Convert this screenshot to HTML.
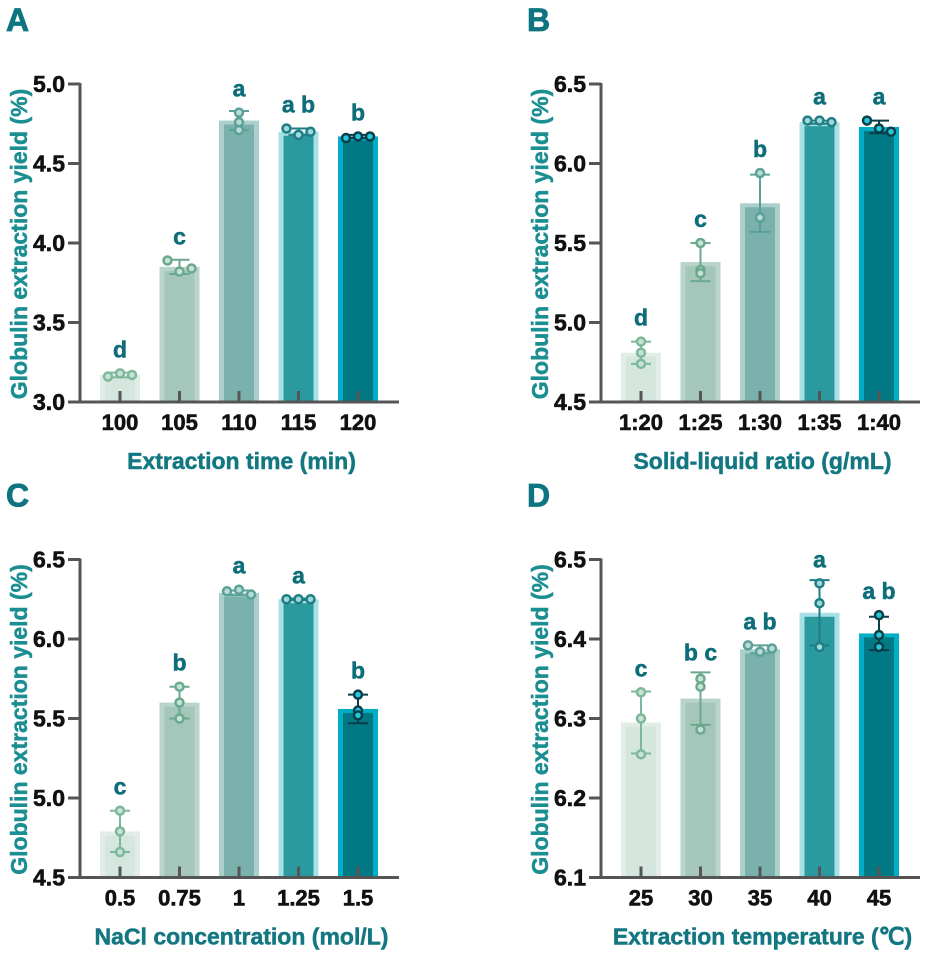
<!DOCTYPE html>
<html><head><meta charset="utf-8"><style>
html,body{margin:0;padding:0;background:#fff;}
svg{display:block;font-family:"Liberation Sans",Arial,sans-serif;font-weight:bold;}
</style></head><body>
<svg id="fig" width="936" height="954" viewBox="0 0 936 954" xmlns="http://www.w3.org/2000/svg"></svg>
<script>
// Panel A
const catsA = ["100","105","110","115","120"];
const meansA = [3.17,3.85,4.77,4.70,4.67];
const sdA = [0.015,0.045,0.06,0.02,0.01];
const ptsA = [[3.16,3.18,3.17],[3.89,3.82,3.84],[4.82,4.76,4.71],[4.72,4.68,4.70],[4.66,4.67,4.67]];
const lettersA = ["d","c","a","a b","b"];
const ticksA = ["3.0","3.5","4.0","4.5","5.0"];
// Panel B
const catsB = ["1:20","1:25","1:30","1:35","1:40"];
const meansB = [4.81,5.38,5.75,6.26,6.23];
const sdB = [0.07,0.12,0.18,0.01,0.04];
const ptsB = [[4.88,4.81,4.74],[5.50,5.33,5.31],[5.94,5.66,5.66],[6.27,6.27,6.26],[6.27,6.22,6.20]];
const lettersB = ["d","c","b","a","a"];
const ticksB = ["4.5","5.0","5.5","6.0","6.5"];
// Panel C
const catsC = ["0.5","0.75","1","1.25","1.5"];
const meansC = [4.79,5.60,6.29,6.25,5.56];
const sdC = [0.13,0.10,0.015,0.005,0.09];
const ptsC = [[4.92,4.79,4.66],[5.70,5.60,5.50],[6.30,6.31,6.28],[6.25,6.25,6.25],[5.65,5.55,5.52]];
const lettersC = ["c","b","a","a","b"];
const ticksC = ["4.5","5.0","5.5","6.0","6.5"];
// Panel D
const catsD = ["25","30","35","40","45"];
const meansD = [6.295,6.325,6.387,6.433,6.407];
const sdD = [0.039,0.033,0.005,0.041,0.021];
const ptsD = [[6.333,6.300,6.255],[6.350,6.340,6.286],[6.392,6.384,6.388],[6.470,6.445,6.390],[6.430,6.405,6.390]];
const lettersD = ["c","b c","a b","a","a b"];
const ticksD = ["6.1","6.2","6.3","6.4","6.5"];

const NS="http://www.w3.org/2000/svg";
const svg=document.getElementById('fig');
function mk(tag,attrs,parent,txt){const e=document.createElementNS(NS,tag);for(const k in attrs)e.setAttribute(k,attrs[k]);if(txt!==undefined)e.textContent=txt;(parent||svg).appendChild(e);return e;}

const outerC=["#e2ede7","#b9d4ca","#abcfcd","#a8e1e5","#00afc5"];
const innerC=["#d4e6dd","#a5c6ba","#7ab1ac","#2a9a9f","#007984"];
const ptC=["#7db89c","#6aa88f","#5aa198","#1f7d85","#0b3e48"];
const ptFill=["#c8e2d4","#c8e2d4","#b9dcd6","#9fd9dc","#27c7dc"];

function panel(ox,oy,label,cats,means,sd,pts,letters,ticks,xtitle){
  const g=mk('g',{});
  const ax=80+ox, yTop=84+oy, yBot=402+oy, xEnd=399+ox;
  const vmin=parseFloat(ticks[0]), vmax=parseFloat(ticks[ticks.length-1]);
  const y=v=>yBot-(v-vmin)/(vmax-vmin)*(yBot-yTop);
  const step=59.5, x=i=>ax+40+i*step;
  mk('text',{x:6+ox,y:31+oy,'font-size':32,fill:'#0e7480',stroke:'#0e7480','stroke-width':0.8,},g,label);
  cats.forEach((c,i)=>{
    const cx=x(i), top=y(means[i]);
    const b=mk('rect',{x:cx-20,y:top,width:40,height:yBot-top,fill:outerC[i]},g);
    
    
    const bi=mk('rect',{x:cx-15,y:top+4,width:30,height:Math.max(0,yBot-top-4),fill:innerC[i]},g);
    
    
  });
  mk('line',{x1:ax,y1:yTop-1,x2:ax,y2:yBot+1.5,stroke:'#555',"stroke-width":3,},g);
  mk('line',{x1:ax-1.5,y1:yBot,x2:xEnd,y2:yBot,stroke:'#555',"stroke-width":3,},g);
  ticks.forEach(t=>{
    const ty=y(parseFloat(t));
    mk('line',{x1:ax-12,y1:ty,x2:ax,y2:ty,stroke:'#555',"stroke-width":3},g);
    const tl=mk('text',{x:ax-15,y:ty+8,'font-size':23,'text-anchor':'end',fill:'#111',stroke:'#111','stroke-width':0.6},g,t);
    
    
  });
  cats.forEach((c,i)=>{
    mk('line',{x1:x(i),y1:yBot-11,x2:x(i),y2:yBot,stroke:'#555',"stroke-width":3},g);
    const xl=mk('text',{x:x(i),y:yBot+28,'font-size':22,'text-anchor':'middle',fill:'#111',stroke:'#111','stroke-width':0.6},g,c);
    
    
  });
  cats.forEach((c,i)=>{
    const cx=x(i), hi=y(means[i]+sd[i]), lo=y(means[i]-sd[i]);
    const col=ptC[i];
    const eg=mk('g',{},g);
    
    
    mk('line',{x1:cx,y1:hi,x2:cx,y2:lo,stroke:col,'stroke-width':2},eg);
    mk('line',{x1:cx-10,y1:hi,x2:cx+10,y2:hi,stroke:col,'stroke-width':2},eg);
    mk('line',{x1:cx-10,y1:lo,x2:cx+10,y2:lo,stroke:col,'stroke-width':2},eg);
    const p=pts[i];
    const rng=Math.abs(y(Math.max(...p))-y(Math.min(...p)));
    const offs=rng<12?[-12,0,12]:[0,0,0];
    p.forEach((v,j)=>{
      const pc=mk('circle',{cx:cx+offs[j],cy:y(v),r:4,fill:ptFill[i],stroke:col,'stroke-width':2.5},g);
      
      
    });
    const topY=Math.min(hi,y(Math.max(...p))-4);
    const lt=mk('text',{x:cx,y:topY-12,'font-size':23,'text-anchor':'middle',fill:'#0d6e7a',stroke:'#0d6e7a','stroke-width':0.5},g,letters[i]);
    
    
  });
  mk('text',{x:(ax+xEnd)/2+2,y:yBot+67,'font-size':23,'text-anchor':'middle',fill:'#137782',stroke:'#137782','stroke-width':0.5,},g,xtitle);
  const yc=(yTop+yBot)/2+1;
  mk('text',{x:0,y:0,transform:`translate(${ox+27},${yc}) rotate(-90)`,'font-size':23,'text-anchor':'middle',fill:'#1b8e92',stroke:'#1b8e92','stroke-width':0.5,},g,'Globulin extraction yield (%)');
}
panel(0,0,'A',catsA,meansA,sdA,ptsA,lettersA,ticksA,'Extraction time (min)');
panel(521,0,'B',catsB,meansB,sdB,ptsB,lettersB,ticksB,'Solid-liquid ratio (g/mL)');
panel(0,475.5,'C',catsC,meansC,sdC,ptsC,lettersC,ticksC,'NaCl concentration (mol/L)');
panel(521,475.5,'D',catsD,meansD,sdD,ptsD,lettersD,ticksD,'Extraction temperature (\u2103)');
</script>
</body></html>
